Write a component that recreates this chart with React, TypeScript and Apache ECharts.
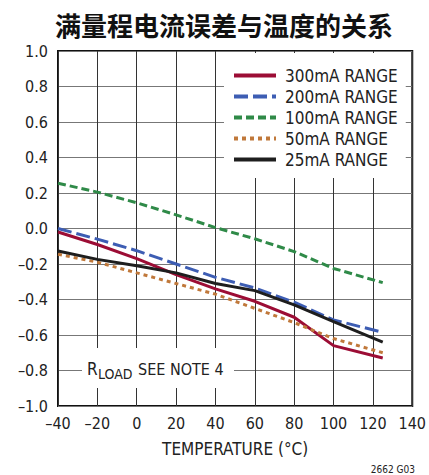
import React, { useEffect, useRef } from "react";
import * as echarts from "echarts";

const temps = [-40, -20, 0, 20, 40, 60, 80, 100, 125];
const r300 = [-0.02, -0.09, -0.17, -0.26, -0.34, -0.41, -0.5, -0.66, -0.73];
const r200 = [0.0, -0.06, -0.125, -0.2, -0.275, -0.335, -0.415, -0.515, -0.585];
const r100 = [0.255, 0.205, 0.145, 0.077, 0.005, -0.058, -0.13, -0.225, -0.305];
const r50 = [-0.145, -0.19, -0.25, -0.31, -0.37, -0.45, -0.53, -0.62, -0.7];
const r25 = [-0.127, -0.174, -0.21, -0.25, -0.31, -0.35, -0.43, -0.525, -0.64];
const seriesNames = ["300mA RANGE", "200mA RANGE", "100mA RANGE", "50mA RANGE", "25mA RANGE"];
const titleText = "满量程电流误差与温度的关系";
const xName = "TEMPERATURE (°C)";
const noteMain = "SEE NOTE 4";
const figId = "2662 G03";

const NARROW = '"DejaVu Sans Condensed", "DejaVu Sans", sans-serif';
const fmt = (v: number, d: number) => {
  const s = Math.abs(v).toFixed(d);
  return v < -1e-9 ? "\u2013" + s : s;
};

export default function App() {
  const ref = useRef<HTMLDivElement>(null);
  useEffect(() => {
    if (!ref.current) return;
    const chart = echarts.init(ref.current, null, { renderer: "svg" });
    const mk = (name: string, vals: number[], color: string, type: any) => ({
      name,
      type: "line",
      data: temps.map((t, i) => [t, vals[i]]),
      symbol: "none",
      lineStyle: { color, width: 3, type },
      itemStyle: { color },
    });
    chart.setOption({
      animation: false,
      backgroundColor: "#fff",
      title: {
        text: titleText,
        left: 55,
        top: 11,
        padding: 0,
        textStyle: { fontFamily: '"Noto Sans CJK SC"', fontWeight: "bold", fontSize: 26, color: "#111" },
      },
      grid: {
        left: 58,
        right: 16,
        top: 51,
        bottom: 69,
        show: true,
        borderColor: "#111",
        borderWidth: 2,
        containLabel: false,
      },
      legend: {
        left: 224,
        top: 53,
        orient: "vertical",
        backgroundColor: "#fff",
        padding: [14, 8, 10, 8],
        itemWidth: 42,
        itemHeight: 14,
        itemGap: 4,
        itemStyle: { opacity: 0 },
        lineStyle: { width: 4 },
        data: seriesNames,
        textStyle: { fontFamily: NARROW, fontSize: 17, lineHeight: 17, color: "#222", padding: [0, 0, 0, 4] },
      },
      xAxis: {
        type: "value",
        min: -40,
        max: 140,
        interval: 20,
        name: xName,
        nameLocation: "middle",
        nameGap: 34,
        nameTextStyle: { fontFamily: NARROW, fontSize: 17, color: "#222" },
        axisLine: { show: false },
        axisTick: { show: false },
        axisLabel: { fontFamily: NARROW, fontSize: 16, color: "#222", margin: 9, formatter: (v: number) => fmt(v, 0) },
        splitLine: { show: true, lineStyle: { color: "#333", width: 1 } },
      },
      yAxis: {
        type: "value",
        min: -1,
        max: 1,
        interval: 0.2,
        axisLine: { show: false },
        axisTick: { show: false },
        axisLabel: { fontFamily: NARROW, fontSize: 16, color: "#222", margin: 10, formatter: (v: number) => fmt(v, 1) },
        splitLine: { show: true, lineStyle: { color: "#777", width: 1 } },
      },
      graphic: [
        { type: "rect", z: 10, shape: { x: 82, y: 348, width: 152, height: 40 }, style: { fill: "#fff" } },
        { type: "text", z: 11, style: { text: "R", x: 87, y: 369, font: `17px ${NARROW}`, fill: "#222", textAlign: "left", textVerticalAlign: "middle" } },
        { type: "text", z: 11, style: { text: "LOAD", x: 98, y: 374, font: `14px ${NARROW}`, fill: "#222", textAlign: "left", textVerticalAlign: "middle" } },
        { type: "text", z: 11, style: { text: noteMain, x: 138, y: 369, font: `16px ${NARROW}`, fill: "#222", textAlign: "left", textVerticalAlign: "middle" } },
        { type: "text", z: 11, style: { text: figId, x: 415, y: 469, font: `10px ${NARROW}`, fill: "#222", textAlign: "right", textVerticalAlign: "middle" } },
      ],
      series: [
        mk(seriesNames[0], r300, "#9c0d35", "solid"),
        mk(seriesNames[1], r200, "#3d5db3", [14, 5]),
        mk(seriesNames[2], r100, "#2f8a48", [8, 4]),
        mk(seriesNames[3], r50, "#c0783a", [4, 4]),
        mk(seriesNames[4], r25, "#1e1e1e", "solid"),
      ],
    });
    return () => chart.dispose();
  }, []);
  return <div ref={ref} style={{ position: "absolute", left: 0, top: 0, width: 429, height: 475 }} />;
}
